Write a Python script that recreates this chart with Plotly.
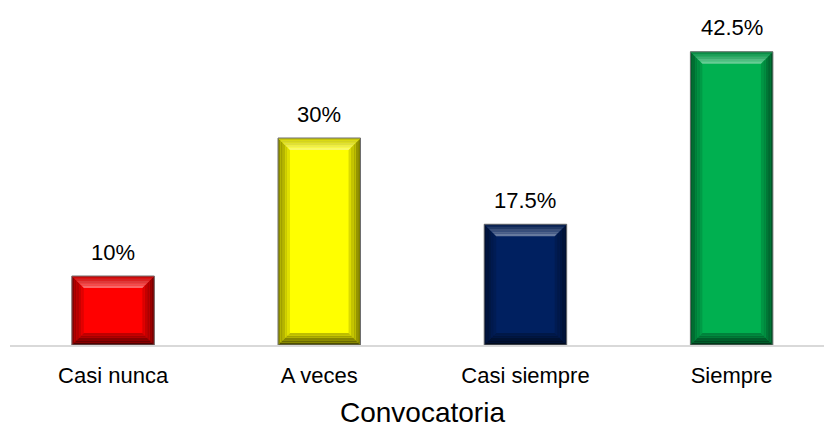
import plotly.graph_objects as go

# Survey answers for "Convocatoria"
categories = ["Casi nunca", "A veces", "Casi siempre", "Siempre"]
percentages = [10, 30, 17.5, 42.5]
value_labels = ["10%", "30%", "17.5%", "42.5%"]
bar_colors = ["#FF0000", "#FFFF00", "#002060", "#00B050"]
axis_title = "Convocatoria"

BAR_WIDTH = 0.4
BEVEL_X = 0.058   # bevel depth along x (category units)
BEVEL_Y = 1.74    # bevel depth along y (percentage units)
STEPS = 5         # strips used to fake the bevel gradient
FONT = "Liberation Sans, Arial, sans-serif"


def hex_rgb(h):
    h = h.lstrip("#")
    return tuple(int(h[i:i + 2], 16) for i in (0, 2, 4))


def mix(a, b, t):
    return tuple(a[i] + (b[i] - a[i]) * t for i in range(3))


def scale(rgb, f):
    return tuple(min(255, c * f) for c in rgb)


def css(rgb):
    return "rgb(%d,%d,%d)" % tuple(round(c) for c in rgb)


def poly(pts):
    return "M " + " L ".join("%.5f,%.5f" % p for p in pts) + " Z"


x_pos = list(range(len(categories)))

fig = go.Figure(
    go.Bar(
        x=x_pos,
        y=percentages,
        width=BAR_WIDTH,
        marker=dict(color=bar_colors, line=dict(width=0)),
        hoverinfo="skip",
    )
)

shapes = []
white = (255, 255, 255)
for xi, v, col in zip(x_pos, percentages, bar_colors):
    base = hex_rgb(col)
    L, R = xi - BAR_WIDTH / 2, xi + BAR_WIDTH / 2
    bx, by = BEVEL_X, BEVEL_Y
    # outer -> inner colours of each bevel face
    faces = {
        "top": (scale(base, 0.75), mix(base, white, 0.45)),
        "bottom": (scale(base, 0.25), scale(base, 0.8)),
        "left": (scale(base, 0.5), scale(base, 0.92)),
        "right": (scale(base, 0.45), scale(base, 0.9)),
    }
    for k in range(STEPS):
        t0, t1 = k / STEPS, (k + 1) / STEPS
        tm = (k + 0.5) / STEPS
        quads = {
            "top": [(L + t0 * bx, v - t0 * by), (R - t0 * bx, v - t0 * by),
                    (R - t1 * bx, v - t1 * by), (L + t1 * bx, v - t1 * by)],
            "bottom": [(L + t0 * bx, t0 * by), (R - t0 * bx, t0 * by),
                       (R - t1 * bx, t1 * by), (L + t1 * bx, t1 * by)],
            "left": [(L + t0 * bx, t0 * by), (L + t0 * bx, v - t0 * by),
                     (L + t1 * bx, v - t1 * by), (L + t1 * bx, t1 * by)],
            "right": [(R - t0 * bx, t0 * by), (R - t0 * bx, v - t0 * by),
                      (R - t1 * bx, v - t1 * by), (R - t1 * bx, t1 * by)],
        }
        for face in ("left", "right", "bottom", "top"):
            outer, inner = faces[face]
            shapes.append(dict(
                type="path", xref="x", yref="y", layer="above",
                path=poly(quads[face]),
                fillcolor=css(mix(outer, inner, tm)),
                line=dict(width=0),
            ))
    # thin grey outline around the bar
    shapes.append(dict(
        type="rect", xref="x", yref="y", layer="above",
        x0=L, x1=R, y0=0, y1=v,
        line=dict(color="#6e6e6e", width=1),
        fillcolor="rgba(0,0,0,0)",
    ))

annotations = [
    dict(x=xi, y=v, xref="x", yref="y", text=lab, showarrow=False,
         yanchor="middle", yshift=24, font=dict(size=22, color="#000000", family=FONT))
    for xi, v, lab in zip(x_pos, percentages, value_labels)
]
annotations.append(dict(
    x=(x_pos[0] + x_pos[-1]) / 2, y=0, xref="x", yref="paper",
    text=axis_title, showarrow=False, yanchor="middle", yshift=-67,
    font=dict(size=28, color="#000000", family=FONT),
))

fig.update_layout(
    width=824, height=428,
    margin=dict(l=10, r=0, t=0, b=83),
    paper_bgcolor="white", plot_bgcolor="white",
    showlegend=False,
    shapes=shapes,
    annotations=annotations,
    font=dict(family=FONT, color="#000000"),
    xaxis=dict(
        range=[-0.5, 3.448], tickmode="array", tickvals=x_pos, ticktext=categories,
        showgrid=False, zeroline=False, ticks="",
        showline=True, linecolor="#d9d9d9", linewidth=2,
        tickfont=dict(size=22, color="#000000", family=FONT),
        ticklabelstandoff=10, fixedrange=True,
    ),
    yaxis=dict(range=[0, 50], visible=False, showgrid=False, zeroline=False, fixedrange=True),
)

fig.write_html("out.html", config={"displayModeBar": False})
